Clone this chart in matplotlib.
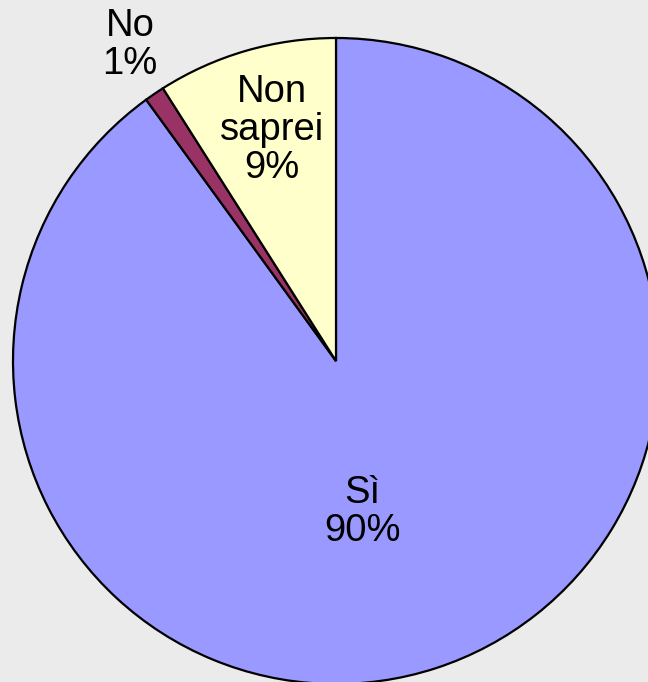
import matplotlib.pyplot as plt

# slices in clockwise order from 12 o'clock
labels = ['Sì', 'No', 'Non\nsaprei']
values = [90, 1, 9]
colors = ['#9999ff', '#993366', '#ffffcc']
# label positions in pixels (x, y from top)
label_pos = [(362, 512), (130, 45), (272, 130)]

W, H = 648, 682
fig = plt.figure(figsize=(W / 100, H / 100), dpi=100)
fig.patch.set_facecolor('#ebebeb')
ax = fig.add_axes([0, 0, 1, 1])

ax.pie(values, colors=colors, startangle=90, counterclock=False,
       center=(336, H - 361), radius=323, frame=True,
       wedgeprops=dict(edgecolor='black', linewidth=1.6))
ax.set_xlim(0, W)
ax.set_ylim(0, H)
ax.set_aspect('equal')
ax.axis('off')

for lab, v, (x, y) in zip(labels, values, label_pos):
    ax.text(x, H - y, f'{lab}\n{v}%', ha='center', va='center',
            fontsize=27.5, family='Liberation Sans', linespacing=1.08)

plt.savefig('out.png', dpi=100, facecolor=fig.get_facecolor())
